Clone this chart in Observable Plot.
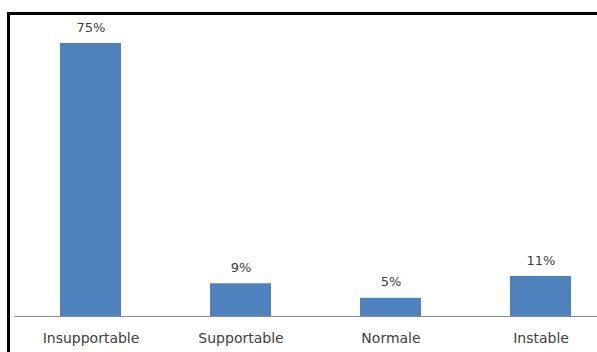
<!DOCTYPE html>
<html>
<head>
<meta charset="utf-8">
<script src="https://cdn.jsdelivr.net/npm/d3@7"></script>
<script src="https://cdn.jsdelivr.net/npm/@observablehq/plot@0.6"></script>
<style>
  html, body { margin: 0; padding: 0; background: #fff; }
  #wrap { position: relative; width: 597px; height: 352px; overflow: hidden; }
  #border { position: absolute; left: 7px; top: 12px; width: 620px; height: 360px;
            border-top: 3px solid #000; border-left: 3px solid #000; pointer-events: none; }
</style>
</head>
<body>
<div id="wrap"><div id="border"></div></div>
<script>
const categories = ["Insupportable", "Supportable", "Normale", "Instable"];
const values = [75, 9, 5, 11];
const labels = ["75%", "9%", "5%", "11%"];

const data = categories.map((c, i) => ({cat: c, v: values[i], label: labels[i]}));

const chart = Plot.plot({
  width: 597,
  height: 352,
  marginLeft: 15,
  marginRight: 0,
  marginTop: 20,
  marginBottom: 36,
  style: {fontFamily: "DejaVu Sans", fontSize: "14px", color: "#404040", background: "transparent"},
  x: {domain: categories, range: [16, 616], paddingInner: 0.593, paddingOuter: 0.2965, label: null},
  y: {domain: [0, 75], range: [316, 43], axis: null},
  marks: [
    Plot.barY(data, {x: "cat", y: "v", fill: "#4F81BD"}),
    Plot.ruleY([0], {stroke: "#8c8c8c", strokeWidth: 1}),
    Plot.text(data, {x: "cat", y: "v", text: "label", dy: -16, fontSize: 13, fill: "#404040"}),
    Plot.axisX({tickSize: 0, tickPadding: 17, fontSize: 14, fill: "#404040", label: null})
  ]
});
document.getElementById("wrap").prepend(chart);
</script>
</body>
</html>
